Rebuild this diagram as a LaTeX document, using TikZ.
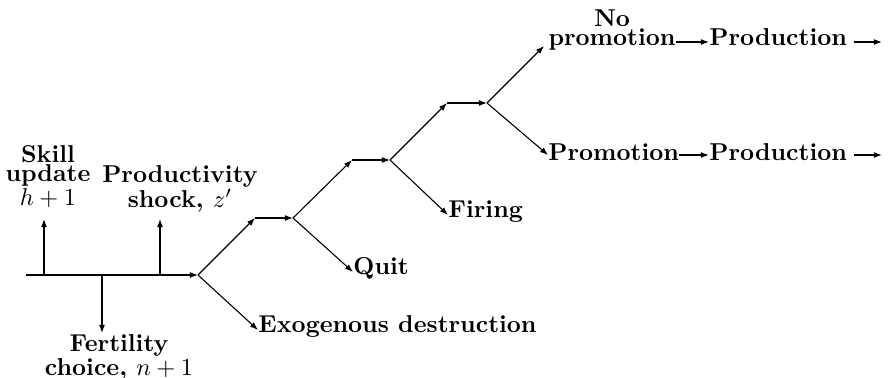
\documentclass[tikz,border=0pt]{standalone}
\usepackage{fontspec}
\usetikzlibrary{arrows.meta}
\begin{document}
\begin{tikzpicture}[x=0.41pt,y=-0.41pt,
  arr/.style={-{Latex[length=3.3pt,width=2.4pt]}, line width=0.45pt},
  plain/.style={line width=0.45pt},
  lbl/.style={font=\bfseries\fontsize{10}{7.8}\selectfont, align=center, inner sep=0pt},
  txt/.style={font=\bfseries, inner sep=0pt, anchor=base west}]
\useasboundingbox (0,0) rectangle (891,378);
% time line
\coordinate (s) at (26,275);
\coordinate (b0) at (198,275);
\coordinate (ks) at (44,275);
\coordinate (kt) at (44,219);
\coordinate (fs) at (102,275);
\coordinate (ft) at (102,333);
\coordinate (ps) at (160,275);
\coordinate (pt) at (160,219);
\draw[arr] (s) -- (b0);
\draw[arr] (ks) -- (kt);
\draw[arr] (fs) -- (ft);
\draw[arr] (ps) -- (pt);
\node[lbl, anchor=south] (skill) at (48,208) {Skill\\update\\$h+1$};
\node[lbl, anchor=south] (prod) at (180,213) {Productivity\\shock, $z'$};
\node[lbl, anchor=north] (fert) at (119,334) {Fertility\\choice, $n+1$};
% tree
\coordinate (u1) at (255,218);
\coordinate (b1) at (293,218);
\coordinate (u2) at (352,160);
\coordinate (b2) at (390,160);
\coordinate (u3) at (447,103);
\coordinate (b3) at (487,103);
\coordinate (u4) at (544,46);
\node[txt] (exo) at (258,333) {Exogenous destruction};
\node[txt] (quit) at (353,275) {Quit};
\node[txt] (fire) at (448,218) {Firing};
\node[txt] (promo) at (548,161) {Promotion};
\node[lbl, anchor=south] (nopromo) at (612,51) {No\\promotion};
\node[txt] (prod1) at (709,46) {Production};
\node[txt] (prod2) at (709,161) {Production};
\coordinate (r1) at (0,42);
\coordinate (r2) at (0,155);
\coordinate (e1) at (882,42);
\coordinate (e2) at (882,155);
\draw[arr] (b0) -- (u1);
\draw[arr] (u1) -- (b1);
\draw[arr] (b0) -- (exo.west |- 0,330);
\draw[arr] (b1) -- (u2);
\draw[arr] (u2) -- (b2);
\draw[arr] (b1) -- (quit.west |- 0,272);
\draw[arr] (b2) -- (u3);
\draw[arr] (u3) -- (b3);
\draw[arr] (b2) -- (fire.west |- 0,215);
\draw[arr] (b3) -- (u4);
\draw[arr] (b3) -- (promo.west |- r2);
\draw[arr] (nopromo.east |- r1) -- (prod1.west |- r1);
\draw[arr] (promo.east |- r2) -- (prod2.west |- r2);
\draw[arr] ([xshift=2.5pt]prod1.east |- r1) -- (e1);
\draw[arr] ([xshift=2.5pt]prod2.east |- r2) -- (e2);
\end{tikzpicture}
\end{document}
